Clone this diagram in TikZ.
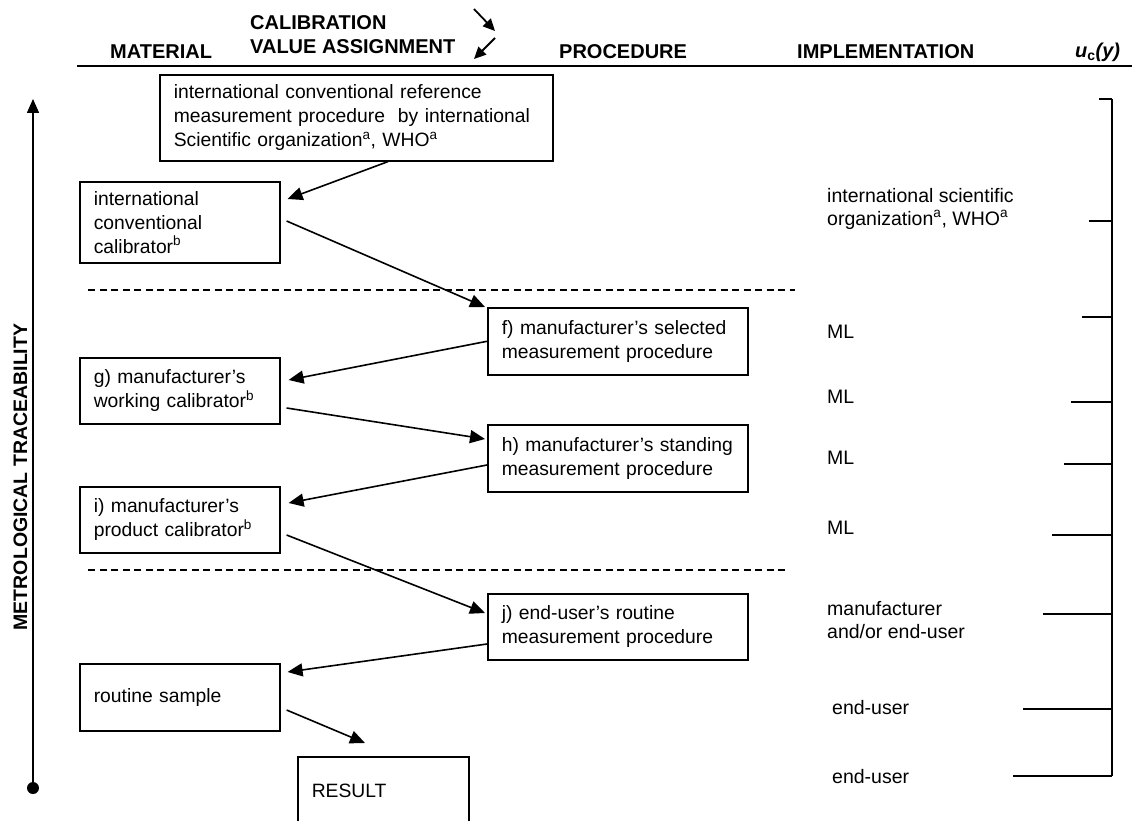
\documentclass[tikz,border=0pt]{standalone}
\usepackage{fontspec}
\setmainfont{Liberation Sans}
\usetikzlibrary{arrows.meta,calc}
\begin{document}
\begin{tikzpicture}[x=1pt,y=-1pt,
  box/.style={draw, line width=1.6pt, anchor=north west, align=left, inner xsep=14pt, inner ysep=0pt, font=\fontsize{19.3}{24}\selectfont},
  conn/.style={line width=1.6pt, -{Triangle[length=15pt,width=13pt]}},
  hdarrow/.style={line width=1.8pt, -{Triangle[length=12pt,width=11pt]}},
  hdr/.style={font=\fontsize{20}{24}\selectfont\bfseries, anchor=west, inner sep=0pt},
  impl/.style={font=\fontsize{19.5}{23}\selectfont, anchor=west, align=left, inner sep=0pt},
  tickline/.style={line width=1.6pt},
  sepline/.style={line width=1.3pt, dash pattern=on 7pt off 4.5pt}]
\useasboundingbox (0,0) rectangle (1132,821);
\clip (0,0) rectangle (1132,821);

% header
\node[hdr] (hcal) at (250,22.5) {CALIBRATION};
\node[hdr] (hval) at (250,47) {VALUE ASSIGNMENT};
\node[hdr] (hmat) at (110,52) {MATERIAL};
\node[hdr] (hproc) at (559,52) {PROCEDURE};
\node[hdr] (himp) at (797,52) {IMPLEMENTATION};
\node[hdr] (huc) at (1075,52) {\textit{u}\textsubscript{c}\textit{(y)}};
\coordinate (ha1s) at (474,9);
\coordinate (ha1e) at (495,31);
\coordinate (ha2s) at (495,38);
\coordinate (ha2e) at (474,59);
\draw[hdarrow] (ha1s) -- (ha1e);
\draw[hdarrow] (ha2s) -- (ha2e);
\coordinate (rulel) at (77,66);
\coordinate (ruler) at (1132,66);
\draw[line width=1.8pt] (rulel) -- (ruler);

% traceability axis
\coordinate (axbot) at (33,788);
\coordinate (axtop) at (33,99);
\draw[line width=1.6pt, -{Triangle[length=14pt,width=12pt]}] (axbot) -- (axtop);
\fill (axbot) circle (6pt);
\node[font=\fontsize{19.5}{22}\selectfont\bfseries, rotate=90, inner sep=0pt] (axlabel) at (20.5,477) {METROLOGICAL TRACEABILITY};

% boxes
\node[box, text width=365pt, minimum height=86pt] (top) at (159,74)
  {international conventional reference\\measurement procedure\ \ by international\\Scientific organization\textsuperscript{a}, WHO\textsuperscript{a}};
\node[box, text width=172pt, minimum height=81pt] (cal) at (79,181)
  {international\\conventional\\calibrator\textsuperscript{b}};
\node[box, text width=232pt, minimum height=67pt] (f) at (487,307)
  {f) manufacturer’s selected\\measurement procedure};
\node[box, text width=172pt, minimum height=66pt] (g) at (79,357)
  {g) manufacturer’s\\working calibrator\textsuperscript{b}};
\node[box, text width=232pt, minimum height=67pt] (h) at (487,424)
  {h) manufacturer’s standing\\measurement procedure};
\node[box, text width=172pt, minimum height=66pt] (i) at (79,486)
  {i) manufacturer’s\\product calibrator\textsuperscript{b}};
\node[box, text width=232pt, minimum height=66pt] (j) at (487,593)
  {j) end-user’s routine\\measurement procedure};
\node[box, text width=172pt, minimum height=67pt] (rs) at (79,663)
  {routine sample};
\node[box, text width=143pt, minimum height=68pt] (res) at (297,756)
  {RESULT};

% connectors
\draw[conn] ($(top.south west)+(229,0)$) -- ($(cal.north east)+(7,18)$);
\draw[conn] ($(cal.north east)+(6,40)$) -- ($(f.north west)+(-2,0)$);
\draw[conn] (f.west) -- ($(g.north east)+(8,23)$);
\draw[conn] ($(g.north east)+(6,51)$) -- ($(h.north west)+(-2,15)$);
\draw[conn] ($(h.north west)+(0,41)$) -- ($(i.north east)+(8,17)$);
\draw[conn] ($(i.north east)+(6,49)$) -- ($(j.north west)+(-2,20)$);
\draw[conn] ($(j.north west)+(0,51)$) -- ($(rs.north east)+(7,9)$);
\draw[conn] ($(rs.north east)+(6,47)$) -- ($(res.north west)+(68,-13)$);

% separators
\coordinate (s1l) at (88,290);
\coordinate (s1r) at (795,290);
\coordinate (s2l) at (88,570);
\coordinate (s2r) at (788,570);
\draw[sepline] (s1l) -- (s1r);
\draw[sepline] (s2l) -- (s2r);

% implementation
\node[impl] (im1) at (827,208.5) {international scientific\\organization\textsuperscript{a}, WHO\textsuperscript{a}};
\node[impl] (im2) at (827,332) {ML};
\node[impl] (im3) at (827,397) {ML};
\node[impl] (im4) at (827,458) {ML};
\node[impl] (im5) at (827,528) {ML};
\node[impl] (im6) at (827,620) {manufacturer\\and/or end-user};
\node[impl] (im7) at (832,708) {end-user};
\node[impl] (im8) at (832,777) {end-user};

% uncertainty bracket
\coordinate (ut) at (1112,99);
\coordinate (ub) at (1112,776);
\draw[tickline] (ut) -- (ub);
\foreach \yy/\xx in {99/1099, 221/1089, 317/1082, 402/1071, 464/1064, 535/1052, 614/1043, 709/1023, 776/1013}{
  \draw[tickline] (\xx,\yy) -- (1112,\yy);
}
\end{tikzpicture}
\end{document}
